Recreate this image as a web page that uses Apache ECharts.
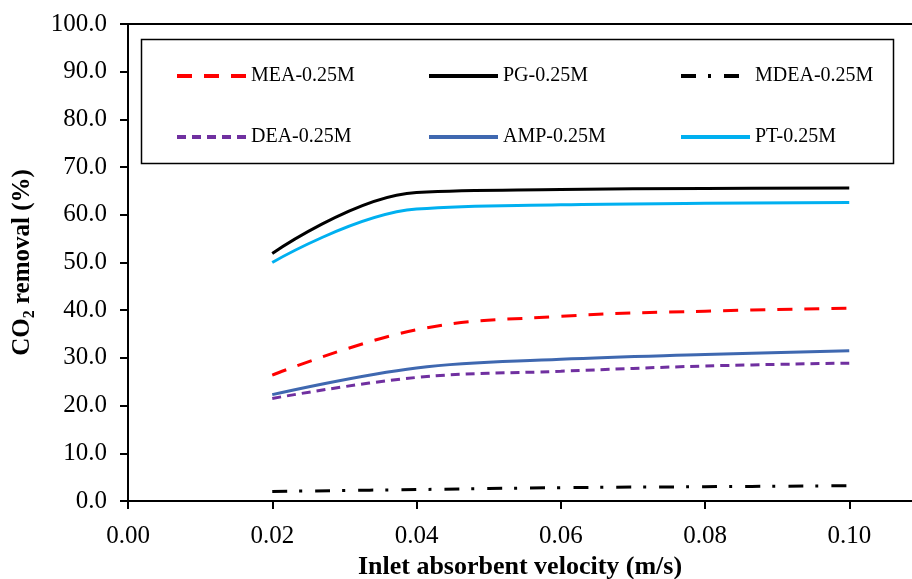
<!DOCTYPE html>
<html>
<head>
<meta charset="utf-8">
<script src="https://cdn.jsdelivr.net/npm/echarts@6/dist/echarts.min.js"></script>
<style>
  html, body { margin: 0; padding: 0; background: #fff; }
  #chart { width: 912px; height: 579px; }
</style>
</head>
<body>
<div id="chart"></div>
<script>
// velocities (m/s)
const velocity = [0.02, 0.04, 0.06, 0.08, 0.10]
// CO2 removal (%)
const mea = [26.4, 35.9, 38.7, 39.8, 40.4]
const pg = [51.9, 64.7, 65.3, 65.5, 65.6]
const mdea = [2.0, 2.4, 2.8, 3.0, 3.2]
const dea = [21.5, 25.9, 27.2, 28.3, 28.9]
const amp = [22.3, 27.9, 29.7, 30.7, 31.5]
const pt = [50.0, 61.2, 62.1, 62.4, 62.6]
const xTicks = [0, 0.02, 0.04, 0.06, 0.08, 0.10]

const font = 'Liberation Serif'
const pairs = ys => velocity.map((v, i) => [v, ys[i]])

const myChart = echarts.init(document.getElementById('chart'))

const lineSeries = (name, data, color, type) => ({
  name: name,
  type: 'line',
  data: pairs(data),
  smooth: 0.4,
  symbol: 'none',
  itemStyle: { color: color },
  lineStyle: { color: color, width: 3, type: type }
})

const legendCol = (left, names) => ({
  orient: 'vertical',
  left: left,
  top: 61,
  itemGap: 41,
  itemWidth: 69,
  itemHeight: 20,
  itemStyle: { opacity: 0 },
  lineStyle: { width: 4 },
  textStyle: { fontFamily: font, fontSize: 20, color: '#000' },
  data: names
})

const option = {
  animation: false,
  backgroundColor: '#fff',
  grid: { left: 128, right: 0, top: 24, bottom: 78, outerBoundsMode: 'none', containLabel: false },
  legend: [
    legendCol(170, ['MEA-0.25M', 'DEA-0.25M']),
    legendCol(422, ['PG-0.25M', 'AMP-0.25M']),
    legendCol(674, ['MDEA-0.25M', 'PT-0.25M'])
  ],
  graphic: [{
    type: 'rect',
    shape: { x: 141.5, y: 39.5, width: 752, height: 124 },
    style: { fill: '#fff', stroke: '#000', lineWidth: 1.5 },
    z: -1
  }],
  xAxis: [{
    type: 'value',
    min: 0,
    max: 0.1087,
    name: 'Inlet absorbent velocity (m/s)',
    nameLocation: 'middle',
    nameGap: 51,
    nameTextStyle: { fontFamily: font, fontSize: 26, fontWeight: 'bold', color: '#000' },
    axisLine: { show: true, lineStyle: { color: '#000', width: 2 } },
    axisTick: { show: true, customValues: xTicks, length: 8, lineStyle: { color: '#000', width: 2 } },
    axisLabel: {
      customValues: xTicks,
      margin: 23,
      fontFamily: font,
      fontSize: 25,
      color: '#000',
      formatter: v => v.toFixed(2)
    },
    splitLine: { show: false }
  }, {
    type: 'value',
    position: 'top',
    min: 0,
    max: 0.1087,
    axisLine: { show: true, lineStyle: { color: '#000', width: 2 } },
    axisTick: { show: false },
    axisLabel: { show: false },
    splitLine: { show: false }
  }],
  yAxis: {
    type: 'value',
    min: 0,
    max: 100,
    interval: 10,
    name: '{a|CO}{b|2}{a| removal (%)}',
    nameLocation: 'middle',
    nameGap: 90,
    nameTextStyle: {
      rich: {
        a: { fontFamily: font, fontSize: 25, fontWeight: 'bold', color: '#000', lineHeight: 30 },
        b: { fontFamily: font, fontSize: 16, fontWeight: 'bold', color: '#000', lineHeight: 16, verticalAlign: 'bottom' }
      }
    },
    axisLine: { show: true, lineStyle: { color: '#000', width: 2 } },
    axisTick: { show: true, length: 8, lineStyle: { color: '#000', width: 2 } },
    axisLabel: {
      margin: 21,
      fontFamily: font,
      fontSize: 25,
      color: '#000',
      formatter: v => v.toFixed(1)
    },
    splitLine: { show: false }
  },
  series: [
    lineSeries('MEA-0.25M', mea, '#ff0000', [15, 12]),
    lineSeries('PG-0.25M', pg, '#000000', 'solid'),
    lineSeries('MDEA-0.25M', mdea, '#000000', [15, 12, 3, 13]),
    lineSeries('DEA-0.25M', dea, '#7030a0', [9, 6]),
    lineSeries('AMP-0.25M', amp, '#3f68b0', 'solid'),
    lineSeries('PT-0.25M', pt, '#00b0f0', 'solid')
  ]
}

myChart.setOption(option)
</script>
</body>
</html>
